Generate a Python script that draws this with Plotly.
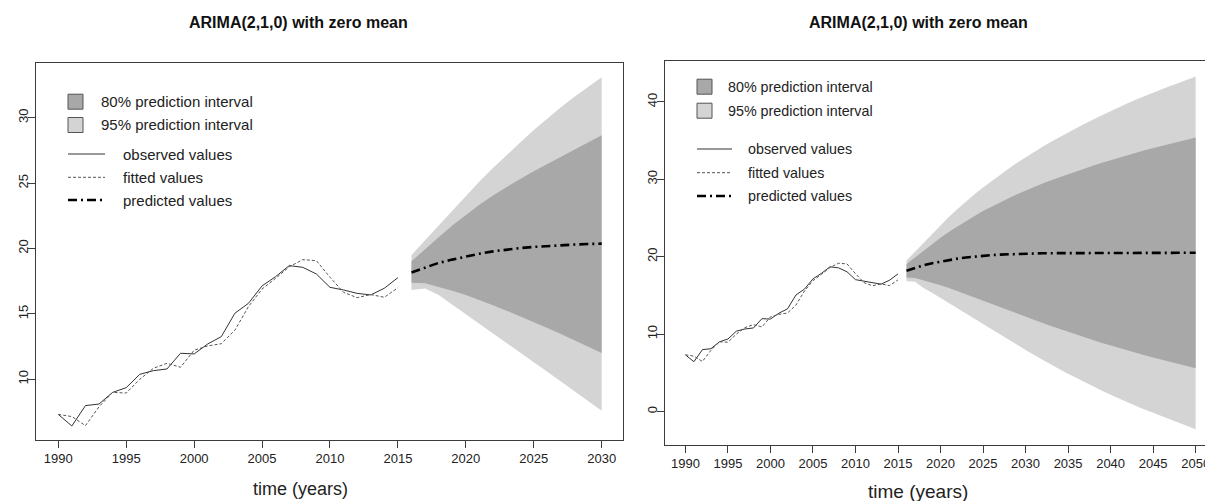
import plotly.graph_objects as go

# ---------------- data ----------------
years_obs = list(range(1990, 2016))
observed = [7.32, 6.43, 7.99, 8.11, 9.00, 9.36, 10.38, 10.66, 10.79, 11.99, 11.94, 12.70, 13.26,
            15.05, 15.81, 17.14, 17.85, 18.69, 18.56, 18.05, 17.03, 16.83, 16.57, 16.45, 16.96, 17.77]
fitted = [7.32, 7.15, 6.46, 7.90, 9.00, 8.95, 10.00, 10.84, 11.22, 10.92, 12.22, 12.55, 12.72,
          13.75, 15.56, 16.90, 17.72, 18.60, 19.15, 19.07, 17.80, 16.65, 16.24, 16.48, 16.27, 17.00]

# left panel forecast (h = 15)
fc_years_left = list(range(2016, 2031))
pred_left = [18.17, 18.55, 18.90, 19.15, 19.38, 19.60, 19.78, 19.92, 20.03, 20.12, 20.19, 20.25, 20.30, 20.34, 20.37]
up80_left = [19.02, 19.90, 20.85, 21.75, 22.58, 23.35, 24.05, 24.70, 25.32, 25.90, 26.46, 27.00, 27.54, 28.09, 28.65]
lo80_left = [17.39, 17.34, 17.08, 16.77, 16.45, 16.06, 15.66, 15.25, 14.82, 14.38, 13.93, 13.47, 13.00, 12.51, 12.01]
up95_left = [19.50, 20.62, 21.80, 22.94, 24.05, 25.13, 26.15, 27.15, 28.10, 29.05, 29.95, 30.80, 31.60, 32.37, 33.09]
lo95_left = [16.83, 16.95, 16.45, 15.70, 14.97, 14.24, 13.51, 12.78, 12.04, 11.31, 10.58, 9.85, 9.11, 8.36, 7.60]

# right panel forecast (h = 35)
fc_years_right = list(range(2016, 2051))
pred_right = [18.17, 18.55, 18.88, 19.15, 19.38, 19.58, 19.75, 19.90, 20.02, 20.12, 20.20, 20.27, 20.32, 20.36, 20.40,
              20.42, 20.44, 20.45, 20.46, 20.47, 20.48, 20.48, 20.49, 20.49, 20.50, 20.50, 20.50, 20.50, 20.50,
              20.50, 20.50, 20.50, 20.50, 20.50, 20.50]
up80_right = [19.04, 19.91, 20.80, 21.65, 22.46, 23.22, 23.94, 24.63, 25.27, 25.89, 26.47, 27.02, 27.55, 28.05, 28.54,
              28.99, 29.44, 29.86, 30.26, 30.66, 31.04, 31.41, 31.78, 32.13, 32.48, 32.82, 33.14, 33.44, 33.74,
              34.02, 34.30, 34.58, 34.85, 35.14, 35.40]
lo80_right = [17.30, 17.25, 16.96, 16.65, 16.30, 15.94, 15.56, 15.17, 14.77, 14.35, 13.93, 13.52, 13.09, 12.67, 12.26,
              11.85, 11.44, 11.04, 10.66, 10.28, 9.92, 9.55, 9.20, 8.85, 8.52, 8.18, 7.86, 7.56, 7.26,
              6.98, 6.70, 6.42, 6.15, 5.86, 5.60]
up95_right = [19.50, 20.63, 21.82, 22.97, 24.08, 25.15, 26.16, 27.13, 28.06, 28.94, 29.78, 30.60, 31.37, 32.12, 32.85,
              33.53, 34.20, 34.84, 35.45, 36.05, 36.63, 37.20, 37.76, 38.29, 38.83, 39.34, 39.83, 40.30, 40.75,
              41.18, 41.61, 42.04, 42.45, 42.88, 43.29]
lo95_right = [16.84, 16.75, 15.94, 15.33, 14.68, 14.01, 13.34, 12.67, 11.98, 11.30, 10.62, 9.94, 9.27, 8.60, 7.95,
              7.31, 6.68, 6.06, 5.47, 4.89, 4.33, 3.76, 3.22, 2.69, 2.17, 1.66, 1.17, 0.70, 0.25,
              -0.18, -0.61, -1.04, -1.45, -1.88, -2.29]

x_ticks_left = [1990, 1995, 2000, 2005, 2010, 2015, 2020, 2025, 2030]
y_ticks_left = [10, 15, 20, 25, 30]
x_ticks_right = [1990, 1995, 2000, 2005, 2010, 2015, 2020, 2025, 2030, 2035, 2040, 2045, 2050]
y_ticks_right = [0, 10, 20, 30, 40]

title_text = "ARIMA(2,1,0) with zero mean"
xlab_text = "time (years)"
legend_fill_labels = ["80% prediction interval", "95% prediction interval"]
legend_line_labels = ["observed values", "fitted values", "predicted values"]

# ---------------- style ----------------
W, H = 1205, 501
FONT = "Liberation Sans, Arial, Helvetica, sans-serif"
DARK = "#A8A8A8"
LIGHT = "#D4D4D4"
AXC = "#3c3c3c"
OBS_C = "#333333"
FIT_C = "#555555"
PRED_DASH = "9px,4px,2px,4px"
FIT_DASH = "3px,2px"


def px(x):
    return x / W


def py(y):
    return 1 - y / H


fig = go.Figure()


def add_panel(xa, ya, fy, pred, lo80, up80, lo95, up95):
    fig.add_trace(go.Scatter(x=fy + fy[::-1], y=up95 + lo95[::-1], fill="toself", fillcolor=LIGHT,
                             mode="lines", line=dict(width=0), hoverinfo="skip", showlegend=False,
                             xaxis=xa, yaxis=ya))
    fig.add_trace(go.Scatter(x=fy + fy[::-1], y=up80 + lo80[::-1], fill="toself", fillcolor=DARK,
                             mode="lines", line=dict(width=0), hoverinfo="skip", showlegend=False,
                             xaxis=xa, yaxis=ya))
    fig.add_trace(go.Scatter(x=years_obs, y=observed, mode="lines", line=dict(color=OBS_C, width=1),
                             showlegend=False, xaxis=xa, yaxis=ya))
    fig.add_trace(go.Scatter(x=years_obs, y=fitted, mode="lines",
                             line=dict(color=FIT_C, width=1, dash=FIT_DASH),
                             showlegend=False, xaxis=xa, yaxis=ya))
    fig.add_trace(go.Scatter(x=fy, y=pred, mode="lines",
                             line=dict(color="#000000", width=2.6, dash=PRED_DASH),
                             showlegend=False, xaxis=xa, yaxis=ya))


add_panel("x", "y", fc_years_left, pred_left, lo80_left, up80_left, lo95_left, up95_left)
add_panel("x2", "y2", fc_years_right, pred_right, lo80_right, up80_right, lo95_right, up95_right)

axis_common = dict(showgrid=False, zeroline=False, showline=True, linecolor=AXC, linewidth=1,
                   ticks="outside", ticklen=7, tickcolor=AXC, tickwidth=1, automargin=False,
                   tickfont=dict(family=FONT, size=13, color="#222222"))

fig.update_layout(
    width=W, height=H, autosize=False,
    margin=dict(l=0, r=0, t=0, b=0, pad=0),
    paper_bgcolor="white", plot_bgcolor="white",
    showlegend=False,
    xaxis=dict(domain=[px(36), px(623)], range=[1988.36, 2031.57], tickvals=x_ticks_left,
               mirror=True, anchor="y", ticklabelstandoff=-1, **axis_common),
    yaxis=dict(domain=[py(440), py(63)], range=[5.36, 34.18], tickvals=y_ticks_left,
               tickangle=-90, mirror=True, anchor="x", ticklabelstandoff=-5, **axis_common),
    xaxis2=dict(domain=[px(665), 1.0], range=[1987.6, 2051.1], tickvals=x_ticks_right,
                mirror=True, anchor="y2", ticklabelstandoff=-1, ticklabeloverflow="allow", **axis_common),
    yaxis2=dict(domain=[py(445), py(61)], range=[-4.33, 45.28], tickvals=y_ticks_right,
                tickangle=-90, mirror=False, anchor="x2", ticklabelstandoff=-5, **axis_common),
)

shapes = []
annotations = []


def text(x, y, s, size, weight="normal", xanchor="left", color="#222222"):
    annotations.append(dict(x=px(x), y=py(y), xref="paper", yref="paper", text=s, showarrow=False,
                            xanchor=xanchor, yanchor="middle",
                            font=dict(family=FONT, size=size, color=color, weight=weight)))


def legend(sq_x0, sq_size, fill_ys, fill_tx, ln_x0, ln_x1, line_ys, line_tx, fsize):
    for yc, col, lab in zip(fill_ys, [DARK, LIGHT], legend_fill_labels):
        shapes.append(dict(type="rect", xref="paper", yref="paper",
                           x0=px(sq_x0), x1=px(sq_x0 + sq_size),
                           y0=py(yc + sq_size / 2), y1=py(yc - sq_size / 2),
                           fillcolor=col, line=dict(color="#555555", width=1)))
        text(fill_tx, yc, lab, fsize)
    styles = [dict(color=OBS_C, width=1), dict(color=FIT_C, width=1, dash=FIT_DASH),
              dict(color="#000000", width=2.6, dash=PRED_DASH)]
    for yc, st, lab in zip(line_ys, styles, legend_line_labels):
        shapes.append(dict(type="line", xref="paper", yref="paper",
                           x0=px(ln_x0), x1=px(ln_x1), y0=py(yc), y1=py(yc), line=st))
        text(line_tx, yc, lab, fsize)


legend(68, 15, [101.7, 125.0], 99, 68, 105, [154.0, 177.3, 200.0], 120.5, 15)
legend(697, 15, [86.7, 110.7], 726, 697, 732, [149.0, 172.7, 196.0], 746, 14.3)

text(298, 22, title_text, 16, weight="bold", xanchor="center", color="#111111")
text(918, 22, title_text, 16, weight="bold", xanchor="center", color="#111111")
text(300, 489, xlab_text, 18, xanchor="center")
text(918, 491, xlab_text, 19, xanchor="center")

fig.update_layout(shapes=shapes, annotations=annotations)

fig.write_html("out.html")
